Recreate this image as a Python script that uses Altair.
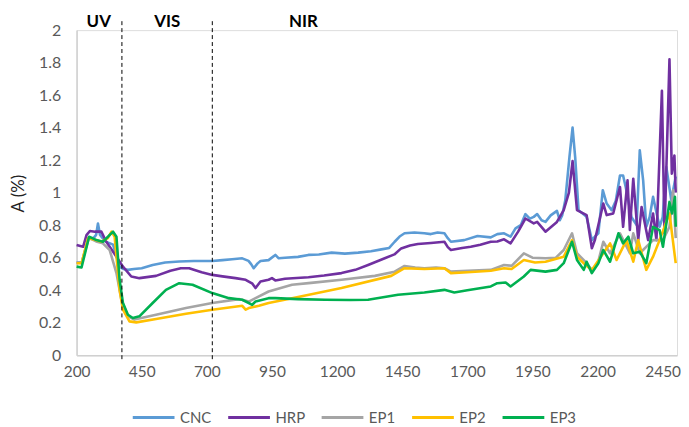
import altair as alt
import pandas as pd

# ---- data ----
cnc_wl = [200, 220, 245, 265, 275, 282, 290, 310, 340, 365, 380, 397, 420, 450, 492, 540, 594, 650, 721, 760,
          797, 836, 860, 870, 880, 895, 906, 937, 963, 976, 1000, 1050, 1090, 1130, 1179, 1230, 1281, 1330, 1370, 1400,
          1421, 1440, 1459, 1497, 1535, 1560, 1586, 1612, 1625, 1637, 1688, 1739, 1790, 1815, 1841, 1866, 1885, 1905, 1923, 1940,
          1955, 1968, 1985, 2000, 2020, 2044, 2055, 2064, 2076, 2092, 2104, 2114, 2127, 2158, 2178, 2190, 2203, 2220, 2235, 2254,
          2270, 2286, 2298, 2308, 2330, 2350, 2362, 2375, 2387, 2400, 2413, 2438, 2450, 2464, 2483, 2500]
cnc_a = [0.57, 0.57, 0.72, 0.72, 0.74, 0.81, 0.74, 0.70, 0.68, 0.545, 0.53, 0.525, 0.53, 0.535, 0.555, 0.57, 0.576, 0.58, 0.58, 0.585,
         0.59, 0.596, 0.58, 0.56, 0.535, 0.565, 0.58, 0.585, 0.617, 0.596, 0.60, 0.605, 0.617, 0.62, 0.631, 0.625, 0.631, 0.64, 0.651, 0.66,
         0.698, 0.73, 0.75, 0.755, 0.75, 0.745, 0.755, 0.75, 0.72, 0.698, 0.708, 0.733, 0.725, 0.745, 0.75, 0.729, 0.78, 0.80, 0.868, 0.84,
         0.851, 0.868, 0.83, 0.82, 0.86, 0.888, 0.83, 0.86, 0.953, 1.219, 1.40, 1.219, 0.892, 0.851, 0.708, 0.73, 0.75, 1.015, 0.933, 0.892,
         0.95, 1.106, 1.106, 1.035, 0.85, 0.80, 1.26, 1.076, 0.79, 0.85, 0.974, 0.79, 0.85, 1.157, 0.953, 1.10]

hrp_wl = [200, 225, 238, 251, 270, 295, 314, 353, 378, 410, 441, 505, 560, 600, 632, 680, 721, 760, 810, 849,
          875, 887, 906, 937, 950, 963, 1000, 1090, 1150, 1217, 1270, 1319, 1383, 1420, 1446, 1480, 1510, 1560, 1612, 1625,
          1637, 1680, 1713, 1750, 1790, 1815, 1841, 1866, 1895, 1923, 1955, 1968, 2000, 2044, 2070, 2090, 2104, 2121, 2158, 2178,
          2190, 2222, 2235, 2260, 2286, 2298, 2315, 2324, 2337, 2356, 2369, 2394, 2413, 2426, 2447, 2457, 2476, 2485, 2495, 2500]
hrp_a = [0.678, 0.667, 0.739, 0.764, 0.76, 0.76, 0.698, 0.606, 0.545, 0.484, 0.474, 0.488, 0.52, 0.535, 0.535, 0.51, 0.494, 0.485, 0.474, 0.464,
         0.44, 0.413, 0.453, 0.464, 0.474, 0.46, 0.47, 0.48, 0.49, 0.505, 0.525, 0.555, 0.596, 0.62, 0.657, 0.675, 0.684, 0.69, 0.698, 0.665,
         0.647, 0.66, 0.667, 0.68, 0.698, 0.70, 0.713, 0.688, 0.76, 0.841, 0.811, 0.82, 0.76, 0.82, 0.892, 1.00, 1.194, 0.892, 0.862, 0.658,
         0.71, 0.933, 0.862, 0.872, 1.035, 0.79, 1.076, 0.77, 1.086, 0.708, 0.912, 0.708, 0.872, 0.708, 1.627, 0.75, 1.821, 1.117, 1.229, 1.00]

ep1_wl = [200, 220, 245, 251, 275, 301, 327, 353, 372, 397, 422, 505, 620, 721, 823, 861, 887, 937, 1027, 1100,
          1217, 1345, 1421, 1459, 1500, 1535, 1580, 1612, 1637, 1700, 1790, 1841, 1870, 1917, 1950, 2000, 2040, 2070, 2102, 2121,
          2150, 2178, 2200, 2222, 2248, 2286, 2324, 2337, 2362, 2413, 2451, 2476, 2490, 2500]
ep1_a = [0.57, 0.57, 0.71, 0.719, 0.70, 0.688, 0.647, 0.505, 0.341, 0.239, 0.219, 0.249, 0.29, 0.321, 0.345, 0.33, 0.351, 0.392, 0.433, 0.445,
         0.464, 0.488, 0.514, 0.549, 0.54, 0.535, 0.54, 0.535, 0.514, 0.52, 0.525, 0.555, 0.55, 0.627, 0.60, 0.596, 0.60, 0.647, 0.75, 0.627,
         0.58, 0.525, 0.56, 0.698, 0.627, 0.75, 0.627, 0.75, 0.627, 0.708, 0.708, 0.79, 1.015, 0.72]

ep2_wl = [200, 219, 244, 270, 295, 320, 334, 346, 365, 378, 403, 429, 505, 620, 721, 836, 849, 861, 900, 937,
          1027, 1217, 1408, 1459, 1535, 1612, 1637, 1700, 1790, 1841, 1870, 1917, 1960, 2000, 2070, 2102, 2121, 2150, 2178, 2222,
          2248, 2273, 2311, 2337, 2356, 2387, 2413, 2438, 2476, 2500]
ep2_a = [0.566, 0.566, 0.719, 0.71, 0.698, 0.72, 0.76, 0.729, 0.402, 0.28, 0.208, 0.202, 0.223, 0.255, 0.28, 0.304, 0.28, 0.29, 0.304, 0.321,
         0.351, 0.413, 0.488, 0.535, 0.53, 0.535, 0.505, 0.51, 0.52, 0.535, 0.53, 0.586, 0.57, 0.575, 0.606, 0.708, 0.606, 0.56, 0.525, 0.627,
         0.688, 0.586, 0.708, 0.575, 0.708, 0.525, 0.606, 0.708, 0.872, 0.566]

ep3_wl = [200, 219, 248, 276, 301, 340, 353, 365, 378, 397, 416, 441, 492, 543, 594, 645, 721, 785, 836, 861,
          874, 887, 937, 963, 1050, 1154, 1250, 1319, 1434, 1535, 1612, 1650, 1700, 1790, 1815, 1847, 1866, 1917, 1943, 2000,
          2044, 2070, 2102, 2121, 2147, 2158, 2178, 2203, 2222, 2248, 2280, 2298, 2318, 2337, 2362, 2387, 2413, 2438, 2451, 2476,
          2486, 2497, 2500]
ep3_a = [0.545, 0.54, 0.729, 0.708, 0.698, 0.76, 0.729, 0.464, 0.321, 0.249, 0.229, 0.239, 0.321, 0.402, 0.443, 0.433, 0.382, 0.351, 0.341, 0.321,
         0.31, 0.33, 0.351, 0.351, 0.345, 0.341, 0.34, 0.341, 0.372, 0.386, 0.402, 0.386, 0.40, 0.423, 0.443, 0.447, 0.423, 0.484, 0.525, 0.514,
         0.525, 0.566, 0.698, 0.586, 0.525, 0.575, 0.505, 0.566, 0.647, 0.575, 0.75, 0.688, 0.729, 0.627, 0.637, 0.566, 0.79, 0.77, 0.667, 0.943,
         0.872, 0.974, 0.79]

series_names = ["CNC", "HRP", "EP1", "EP2", "EP3"]
series_colors = ["#5B9BD5", "#7030A0", "#A5A5A5", "#FFC000", "#00B050"]
x_ticks = [200, 450, 700, 950, 1200, 1450, 1700, 1950, 2200, 2450]
y_ticks = [0, 0.2, 0.4, 0.6, 0.8, 1.0, 1.2, 1.4, 1.6, 1.8, 2.0]
region_bounds = [374, 721]
region_labels = ["UV", "VIS", "NIR"]
region_label_wl = [285, 548, 1071]

# ---- build table ----
rows = []
for name, wl, a in zip(series_names, [cnc_wl, hrp_wl, ep1_wl, ep2_wl, ep3_wl], [cnc_a, hrp_a, ep1_a, ep2_a, ep3_a]):
    assert len(wl) == len(a), name
    for i, (w, v) in enumerate(zip(wl, a)):
        rows.append({"wl": w, "A": v, "series": name, "idx": i})
df = pd.DataFrame(rows)

FONT = "Lato"
GREY = "#595959"

xscale = alt.Scale(domain=[200, 2505], nice=False, zero=False)

lines = alt.Chart(df).mark_line(strokeWidth=2.6, strokeJoin="round").encode(
    x=alt.X("wl:Q", scale=xscale,
            axis=alt.Axis(values=x_ticks, format="d", title=None, grid=False, ticks=False, domainColor="#D0D0D0",
                          domainWidth=1.5, labelFont=FONT, labelFontSize=15.5, labelColor=GREY,
                          labelPadding=9, labelFlush=False)),
    y=alt.Y("A:Q", scale=alt.Scale(domain=[0, 2], nice=False),
            axis=alt.Axis(values=y_ticks, format="~g", title="A (%)", grid=False, ticks=False,
                          domainColor="#D0D0D0", domainWidth=1.5, labelFont=FONT, labelFontSize=16,
                          labelColor=GREY, labelPadding=16, titleFont=FONT, titleFontSize=17,
                          titleFontWeight="normal", titleColor="#222222", titleX=-58, titleY=164,
                          titleAlign="center", titleBaseline="middle")),
    color=alt.Color("series:N", scale=alt.Scale(domain=series_names, range=series_colors),
                    legend=alt.Legend(title=None, orient="none", direction="horizontal",
                                      legendX=55, legendY=367, symbolType="stroke",
                                      symbolSize=1764, symbolStrokeWidth=3, labelFont=FONT,
                                      labelFontSize=15, labelColor=GREY, labelOffset=4,
                                      columnPadding=10)),
    order=alt.Order("idx:Q"),
)

rules_df = pd.DataFrame({"wl": region_bounds})
rules = alt.Chart(rules_df).mark_rule(color="black", strokeDash=[4, 3], strokeWidth=1).encode(
    x=alt.X("wl:Q", scale=xscale),
    y=alt.value(-9),
    y2=alt.value(331),
)

labels_df = pd.DataFrame({"wl": region_label_wl, "label": region_labels})
labels = alt.Chart(labels_df).mark_text(font=FONT, fontSize=17, fontWeight="bold", color="black",
                                        baseline="middle", align="center").encode(
    x=alt.X("wl:Q", scale=xscale),
    y=alt.value(-8),
    text="label:N",
)

chart = alt.layer(lines, rules, labels).properties(
    width=604, height=327,
    autosize=alt.AutoSizeParams(type="none"),
    padding={"left": 69, "top": 21, "right": 4, "bottom": 74},
).configure_view(stroke=None).configure(background="white")

chart.save("out.html", embed_options={"renderer": "svg", "actions": False})
